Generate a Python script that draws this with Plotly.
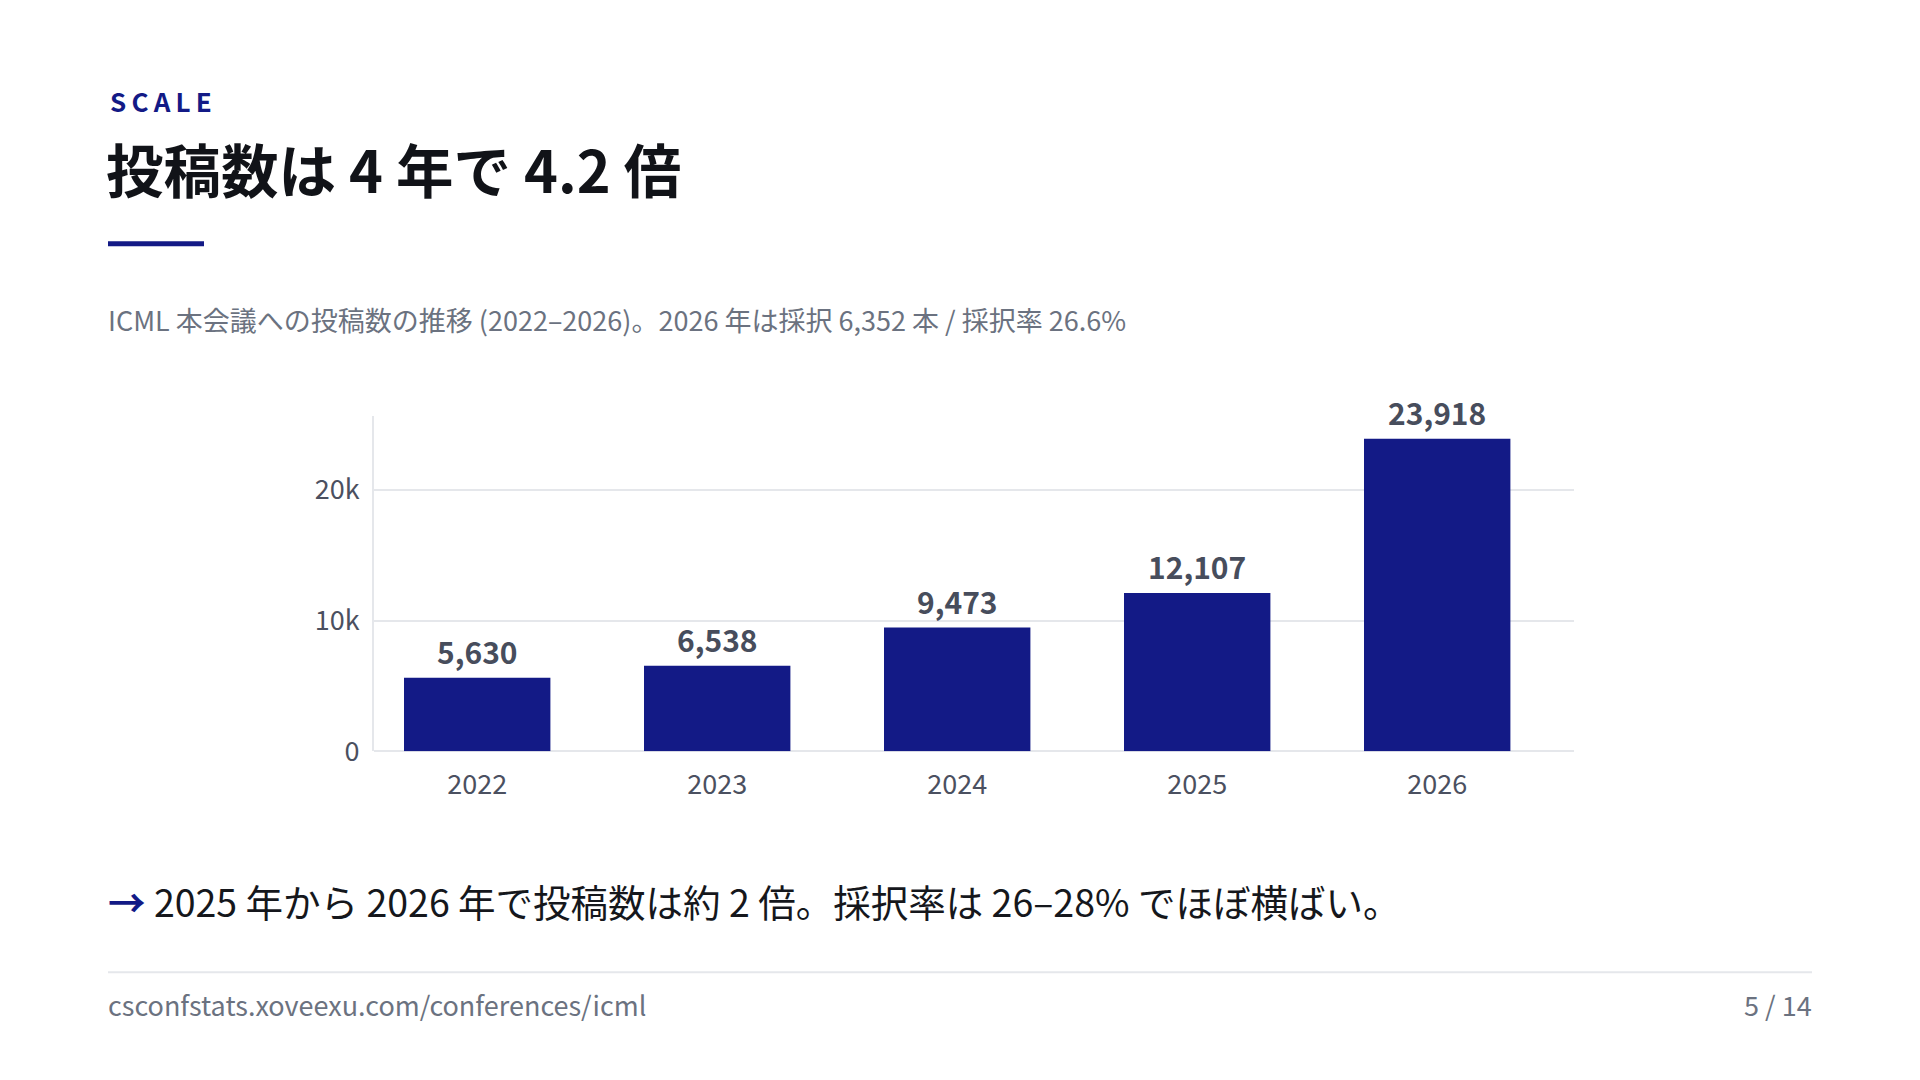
import plotly.graph_objects as go

# データ
years = ["2022", "2023", "2024", "2025", "2026"]
submissions = [5630, 6538, 9473, 12107, 23918]
ytick_vals = [0, 10000, 20000]
ytick_text = ["0", "10k", "20k"]

eyebrow = "SCALE"
title = "投稿数は 4 年で 4.2 倍"
subtitle = "ICML 本会議への投稿数の推移 (2022–2026)。2026 年は採択 6,352 本 / 採択率 26.6%"
takeaway = "2025 年から 2026 年で投稿数は約 2 倍。採択率は 26–28% でほぼ横ばい。"
footer_left = "csconfstats.xoveexu.com/conferences/icml"
footer_right = "5 / 14"

# ページの body margin (8px) 分だけ小さくしてスクロールバーを出さない
PAD = 8
W, H = 1920 - 2 * PAD, 1080 - 2 * PAD
KY = 1.0164  # スクリーンショットの縦方向の縮みを補正
NAVY = "#131a86"
FONT = "Noto Sans CJK JP"


def px(x):
    return (x - PAD) / W


def py(y):
    return 1 - (y * KY - PAD) / H


fig = go.Figure()
fig.add_trace(go.Bar(
    x=years,
    y=submissions,
    marker=dict(color=NAVY, line=dict(width=0)),
    hoverinfo="skip",
))

# 棒の上の数値
for i, v in enumerate(submissions):
    fig.add_annotation(
        x=i, y=v, xref="x", yref="y",
        text=f"{v:,}", showarrow=False,
        yanchor="bottom", yshift=3,
        font=dict(family=FONT, size=30, color="#474d5c", weight="bold"),
    )

# 見出しまわり
fig.add_annotation(
    x=px(108), y=py(100.5), xref="paper", yref="paper",
    text="\u2009".join(eyebrow), showarrow=False,
    xanchor="left", yanchor="middle",
    font=dict(family=FONT, size=26, color=NAVY, weight="bold"),
)
fig.add_annotation(
    x=px(104), y=py(168), xref="paper", yref="paper",
    text=title, showarrow=False,
    xanchor="left", yanchor="middle",
    font=dict(family=FONT, size=57.5, color="#111318", weight="bold"),
)
fig.add_annotation(
    x=px(106), y=py(319), xref="paper", yref="paper",
    text=subtitle, showarrow=False,
    xanchor="left", yanchor="middle",
    font=dict(family=FONT, size=27, color="#6b7280"),
)
fig.add_annotation(
    x=px(106), y=py(900.5), xref="paper", yref="paper",
    text=f'<span style="color:{NAVY}"><b>→</b></span> ' + takeaway, showarrow=False,
    xanchor="left", yanchor="middle",
    font=dict(family=FONT, size=37.5, color="#15171c"),
)
fig.add_annotation(
    x=px(106), y=py(1004), xref="paper", yref="paper",
    text=footer_left, showarrow=False,
    xanchor="left", yanchor="middle",
    font=dict(family=FONT, size=27, color="#6b7280"),
)
fig.add_annotation(
    x=px(1814), y=py(1004), xref="paper", yref="paper",
    text=footer_right, showarrow=False,
    xanchor="right", yanchor="middle",
    font=dict(family=FONT, size=27, color="#6b7280"),
)

# アクセントバーと区切り線
fig.add_shape(type="rect", xref="paper", yref="paper",
              x0=px(108), x1=px(204), y0=py(246), y1=py(241),
              fillcolor=NAVY, line=dict(width=0))
fig.add_shape(type="line", xref="paper", yref="paper",
              x0=px(108), x1=px(1812), y0=py(972), y1=py(972),
              line=dict(color="#e5e7eb", width=2))

fig.update_layout(
    width=W, height=H,
    margin=dict(l=0, r=0, t=0, b=0),
    paper_bgcolor="white", plot_bgcolor="white",
    showlegend=False,
    bargap=0.39,
    font=dict(family=FONT, color="#4b5060"),
    xaxis=dict(
        domain=[px(374), px(1574)],
        type="category",
        range=[-0.43, 4.57],
        showgrid=False, showline=False, ticks="",
        tickfont=dict(family=FONT, size=27, color="#4b5060"),
        ticklabelstandoff=15,
    ),
    yaxis=dict(
        domain=[py(751), py(416)],
        range=[0, 25650],
        tickvals=ytick_vals, ticktext=ytick_text,
        showgrid=True, gridcolor="#e5e7eb", gridwidth=1.5,
        showline=True, linecolor="#e5e7eb", linewidth=2,
        zeroline=True, zerolinecolor="#e5e7eb", zerolinewidth=2,
        ticks="",
        tickfont=dict(family=FONT, size=27, color="#4b5060"),
        ticklabelstandoff=7,
    ),
)

fig.write_html("out.html")
